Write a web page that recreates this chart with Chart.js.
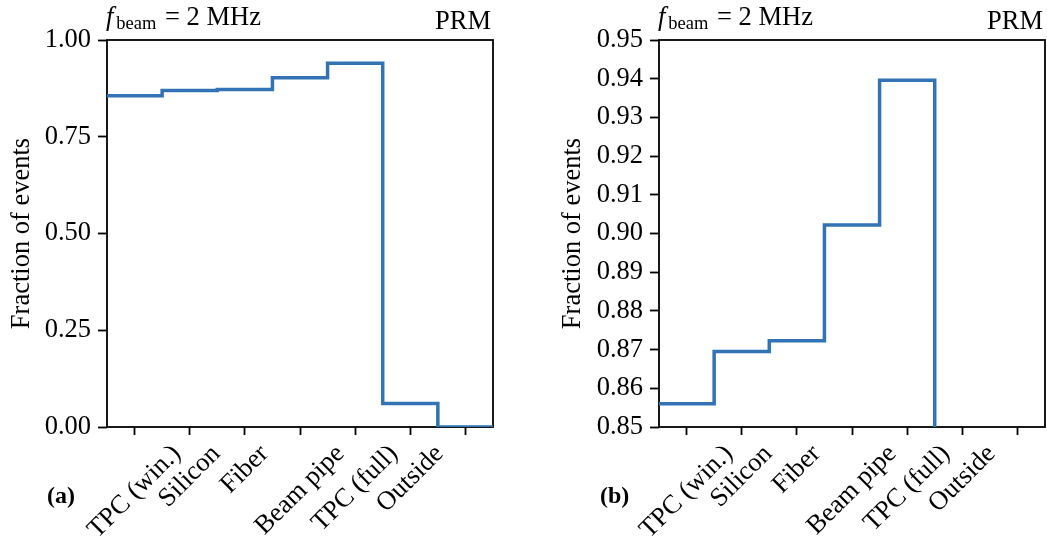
<!DOCTYPE html>
<html>
<head>
<meta charset="utf-8">
<script src="https://cdn.jsdelivr.net/npm/chart.js@4.4.0/dist/chart.umd.min.js"></script>
<style>
html, body { margin: 0; padding: 0; background: #fff; }
canvas { position: absolute; top: 0; }
#chartA { left: 0; }
#chartB { left: 540px; }
</style>
</head>
<body>
<canvas id="chartA" width="540" height="539"></canvas>
<canvas id="chartB" width="507" height="539"></canvas>
<script>
// bins of the step histogram (last bin has no label)
const categories = ['TPC (win.)', 'Silicon', 'Fiber', 'Beam pipe', 'TPC (full)', 'Outside'];
const fractions = [0.856, 0.8695, 0.8723, 0.9022, 0.9396, 0.061, 0.0];
const yTicksA = [0, 0.25, 0.5, 0.75, 1.0];
const yTicksB = [0.85, 0.86, 0.87, 0.88, 0.89, 0.90, 0.91, 0.92, 0.93, 0.94, 0.95];

const serif = '"Liberation Serif", "DejaVu Serif", serif';
const fs = 26.5;
const lineColor = '#3273b6';

// step points at the bin edges
const points = fractions.map((v, i) => ({x: i, y: v}));
points.push({x: fractions.length, y: fractions[fractions.length - 1]});
const xTickPos = fractions.map((v, i) => i + 0.5);

const decorations = {
  id: 'decorations',
  beforeDatasetsDraw(chart) {
    const {ctx, chartArea: a} = chart;
    ctx.save();
    ctx.strokeStyle = '#000';
    ctx.lineWidth = 1.8;
    ctx.strokeRect(a.left, a.top, a.right - a.left, a.bottom - a.top);
    ctx.restore();
  },
  afterDraw(chart, args, opts) {
    const {ctx, chartArea: a} = chart;
    const xs = chart.scales.x;
    ctx.save();
    ctx.fillStyle = '#000';
    // rotated category labels, centred on the ticks
    ctx.font = fs + 'px ' + serif;
    categories.forEach((lab, i) => {
      const x = xs.getPixelForValue(i + 0.5);
      const w = ctx.measureText(lab).width;
      const cy = a.bottom + 13.5 + (w + fs) * 0.35355;
      ctx.save();
      ctx.translate(x, cy);
      ctx.rotate(-Math.PI / 4);
      ctx.textAlign = 'center';
      ctx.textBaseline = 'middle';
      ctx.fillText(lab, 0, 0);
      ctx.restore();
    });
    // f_beam = 2 MHz
    ctx.textBaseline = 'alphabetic';
    ctx.textAlign = 'left';
    let x = a.left - 1;
    ctx.font = 'italic ' + fs + 'px ' + serif;
    ctx.fillText('f', x, 25);
    x += ctx.measureText('f').width + 3;
    ctx.font = '18.5px ' + serif;
    ctx.fillText('beam', x, 28.5);
    x += ctx.measureText('beam').width + 2;
    ctx.font = fs + 'px ' + serif;
    ctx.fillText(' = 2 MHz', x, 25);
    ctx.textAlign = 'right';
    ctx.fillText('PRM', a.right - 2, 29);
    // panel letter
    ctx.textAlign = 'left';
    ctx.font = 'bold 24px ' + serif;
    ctx.fillText(opts.letter, opts.letterX, 503);
    ctx.restore();
  }
};

function makeChart(id, yTicks, yMin, yMax, yWidth, padRight, titlePad, letter, letterX) {
  return new Chart(document.getElementById(id), {
    type: 'line',
    data: {
      datasets: [{
        data: points,
        stepped: 'before',
        borderColor: lineColor,
        borderWidth: 3.5,
        borderJoinStyle: 'miter',
        borderCapStyle: 'butt',
        pointRadius: 0,
        fill: false
      }]
    },
    options: {
      responsive: false,
      animation: false,
      layout: {padding: {top: 40, right: padRight, left: 0, bottom: 0}},
      plugins: {
        legend: {display: false},
        tooltip: {enabled: false},
        decorations: {letter: letter, letterX: letterX}
      },
      scales: {
        x: {
          type: 'linear',
          min: 0,
          max: fractions.length,
          afterFit: s => { s.height = 112; },
          afterBuildTicks: s => { s.ticks = xTickPos.map(v => ({value: v})); },
          ticks: {display: false},
          border: {display: false},
          grid: {drawOnChartArea: false, drawTicks: true, tickLength: 8, tickWidth: 1.8, tickColor: '#000'}
        },
        y: {
          type: 'linear',
          min: yMin,
          max: yMax,
          afterFit: s => { s.width = yWidth; },
          afterBuildTicks: s => { s.ticks = yTicks.map(v => ({value: v})); },
          ticks: {
            color: '#000',
            padding: 7,
            font: {family: serif, size: fs},
            callback: v => v.toFixed(2)
          },
          border: {display: false},
          grid: {drawOnChartArea: false, drawTicks: true, tickLength: 9, tickWidth: 1.8, tickColor: '#000'},
          title: {
            display: true,
            text: 'Fraction of events',
            color: '#000',
            font: {family: serif, size: fs},
            padding: {top: titlePad - 1, bottom: 0}
          }
        }
      }
    },
    plugins: [decorations]
  });
}

makeChart('chartA', yTicksA, 0, 1.0, 107, 47, 7, '(a)', 47);
makeChart('chartB', yTicksB, 0.85, 0.95, 119, 2, 18, '(b)', 60);
</script>
</body>
</html>
